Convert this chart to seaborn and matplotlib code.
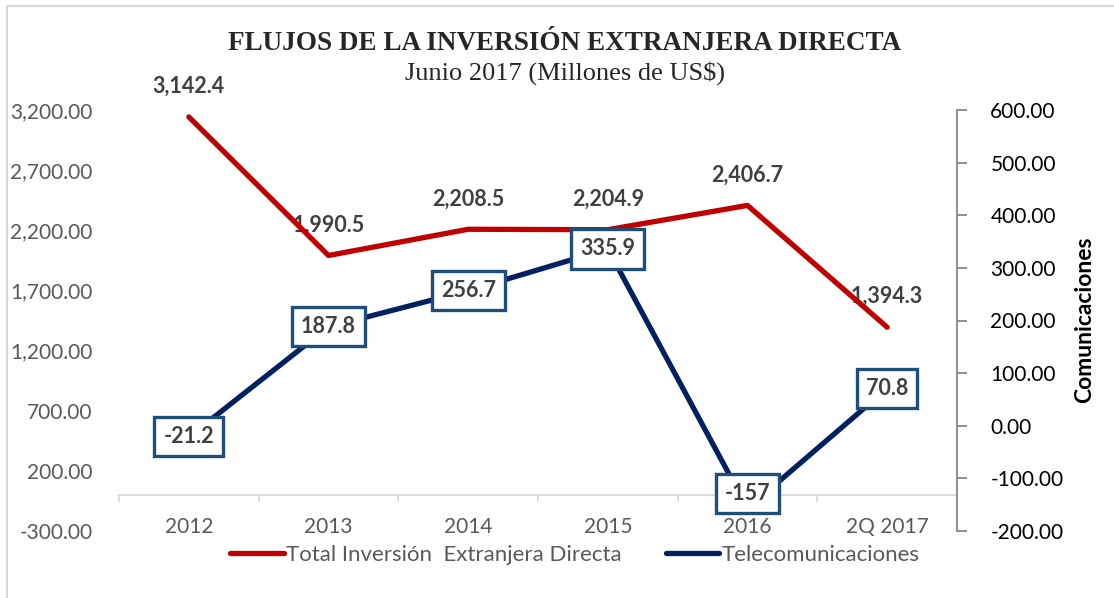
import pandas as pd
import matplotlib
matplotlib.use("Agg")
import matplotlib.pyplot as plt
from matplotlib.patches import Rectangle
from matplotlib.ticker import FixedLocator
import seaborn as sns

# data
years = ["2012", "2013", "2014", "2015", "2016", "2Q 2017"]
total_ied = [3142.4, 1990.5, 2208.5, 2204.9, 2406.7, 1394.3]
telecom = [-21.2, 187.8, 256.7, 335.9, -157, 70.8]

df = pd.DataFrame({"year": years, "total": total_ied, "tel": telecom})

sns.set_style("white")
plt.rcParams["font.family"] = ["Lato", "DejaVu Sans"]

RED = "#c00000"
NAVY = "#002060"
GRAY = "#595959"
LGRAY = "#d9d9d9"

fig = plt.figure(figsize=(11.14, 5.98), dpi=100)
ax = fig.add_axes([119 / 1114, 1 - 531 / 598, (957 - 119) / 1114, (531 - 110) / 598])
ax2 = ax.twinx()

sns.lineplot(data=df, x="year", y="total", ax=ax, color=RED, linewidth=3.8,
             sort=False, label="Total Inversión  Extranjera Directa", zorder=3)
sns.lineplot(data=df, x="year", y="tel", ax=ax2, color=NAVY, linewidth=3.8,
             sort=False, label="Telecomunicaciones", zorder=3)
for a in (ax, ax2):
    if a.get_legend() is not None:
        a.get_legend().remove()
    a.set_xlabel("")
    a.set_ylabel("")
    for ln in a.get_lines():
        ln.set_solid_capstyle("round")
        ln.set_solid_joinstyle("round")

# left axis
ax.set_xlim(-0.5, len(years) - 0.5)
ax.set_ylim(-300, 3200)
ax.set_yticks(range(-300, 3201, 500))
ax.set_yticklabels([f"{v:,.2f}" for v in range(-300, 3201, 500)])
ax.tick_params(axis="y", length=0, pad=19, labelsize=15, labelcolor=GRAY)
for s in ("left", "top", "right"):
    ax.spines[s].set_visible(False)
ax.spines["bottom"].set_position(("data", 0))
ax.spines["bottom"].set_color(LGRAY)
ax.spines["bottom"].set_linewidth(1.3)
ax.tick_params(axis="x", which="major", length=0, pad=16, labelsize=15, labelcolor=GRAY)
ax.xaxis.set_minor_locator(FixedLocator([i - 0.5 for i in range(len(years) + 1)]))
ax.tick_params(axis="x", which="minor", bottom=True, length=5, width=1.3, color=LGRAY,
               direction="out")

# right axis
ax2.set_ylim(-200, 600)
ax2.set_yticks(range(-200, 601, 100))
ax2.set_yticklabels([f"{v:.2f}" for v in range(-200, 601, 100)])
ax2.tick_params(axis="y", right=True, length=7, width=1.3, color="#868686", pad=17,
                labelsize=15, labelcolor="black", direction="out")
for s in ("left", "top", "bottom"):
    ax2.spines[s].set_visible(False)
ax2.spines["right"].set_color("#868686")
ax2.spines["right"].set_linewidth(1.3)

# data labels
for i, v in enumerate(total_ied):
    ax.annotate(f"{v:,.1f}", (i, v), xytext=(0, 22), textcoords="offset points",
                ha="center", va="center", fontsize=15.5, fontweight="bold",
                color="#404040", zorder=1)
for i, v in enumerate(telecom):
    # labels close to the bottom edge get nudged up to stay inside the plot area
    dy = 11 if v < -100 else 0
    ax2.annotate(f"{v:g}", (i, v), xytext=(0, dy), textcoords="offset points",
                 ha="center", va="center", fontsize=15.5, fontweight="bold",
                 color="#404040", zorder=5,
                 bbox=dict(boxstyle="square,pad=0.42", fc="white", ec="#1f4e79", lw=2.4))

# titles
fig.text(0.507, 0.928, "FLUJOS DE LA INVERSIÓN EXTRANJERA DIRECTA", ha="center", va="center",
         fontsize=19.5, fontweight="bold", family="Liberation Serif")
fig.text(0.507, 0.878, "Junio 2017 (Millones de US$)", ha="center", va="center",
         fontsize=19, family="Liberation Serif")
fig.text(1085 / 1114, 0.465, "Comunicaciones", rotation=90, ha="center", va="center",
         fontsize=16.5, fontweight="bold", color="black")

# legend
handles = [ax.get_lines()[0], ax2.get_lines()[0]]
fig.legend(handles, ["Total Inversión  Extranjera Directa", "Telecomunicaciones"],
           loc="center", bbox_to_anchor=(0.516, 0.072), ncol=2, frameon=False,
           fontsize=16, labelcolor=GRAY, handlelength=2.4, handletextpad=0.1,
           columnspacing=2.0)

# outer chart frame
fig.patches.append(Rectangle((7 / 1114, -0.1), 1.2, 1 - 6 / 598 + 0.1, transform=fig.transFigure,
                             fill=False, ec=LGRAY, lw=1.5))

fig.savefig("out.png", dpi=100)
